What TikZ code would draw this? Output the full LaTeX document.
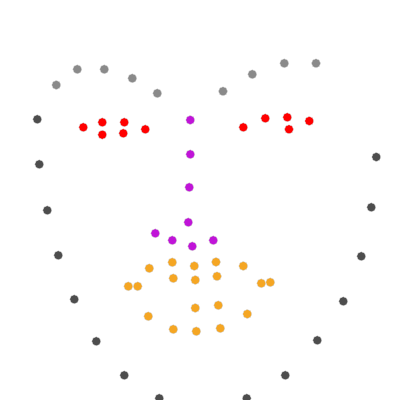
\documentclass[tikz,border=0pt]{standalone}
\definecolor{browgray}{HTML}{8A8A8A}
\definecolor{jawgray}{HTML}{4D4D4D}
\definecolor{eyered}{HTML}{FF0000}
\definecolor{nosepurple}{HTML}{C014D8}
\definecolor{mouthorange}{HTML}{F5A623}
\tikzset{
    landmark/.style={draw=white!85!black, line width=0.4pt},
}
\begin{document}
\begin{tikzpicture}[x=1pt,y=-1pt]
    \useasboundingbox (0,0) rectangle (400,400);

    % jaw line
    \foreach \px/\py in {37.3/119.3, 39.3/164.3, 47.3/210.3, 58.3/255.3,
            74.3/299.3, 96.3/341.3, 124.3/375.3, 159.3/398.3,
            246.7/398.3, 285.3/375.3, 317.3/340.3, 343.3/301.3,
            361.3/256.3, 371.3/207.3, 376.3/157}
        \draw [landmark, fill=jawgray]
            (\px,\py) circle (4.5)
            ;

    % brows
    \foreach \px/\py in {56.3/85, 77.3/69.3, 104.3/69.3, 132.3/78.3,
            157.3/93.3, 223/91.3, 252.3/74.3, 284.3/63.3, 316/63.3}
        \draw [landmark, fill=browgray]
            (\px,\py) circle (4.5)
            ;

    % eyes
    \foreach \px/\py in {83.3/127.3, 102.3/122.3, 124.3/122.3, 145.3/129.3,
            123.3/133.3, 102.3/134.7, 243.3/127.3, 265.3/118.3,
            287.3/117.3, 309.3/121, 289/129.3}
        \draw [landmark, fill=eyered]
            (\px,\py) circle (4.5)
            ;

    % nose
    \foreach \px/\py in {190.3/120, 190.3/154.3, 189.3/187.3, 188.3/222.3,
            155.3/233.3, 172.3/240.3, 192.3/246.3, 213.3/240.3}
        \draw [landmark, fill=nosepurple]
            (\px,\py) circle (4.5)
            ;

    % mouth
    \foreach \px/\py in {149.3/268.3, 172.3/262.3, 194.3/266, 216/262,
            243.3/266, 173.3/278.3, 195.3/280, 217/276.3,
            128.3/286.3, 137.7/286.3, 261.3/283.3, 270.3/282.3,
            195.3/308, 218.3/305.3, 148.3/316.3, 247.3/314,
            173.3/329.3, 196.3/331.3, 220.3/328.3}
        \draw [landmark, fill=mouthorange]
            (\px,\py) circle (4.5)
            ;
\end{tikzpicture}
\end{document}
